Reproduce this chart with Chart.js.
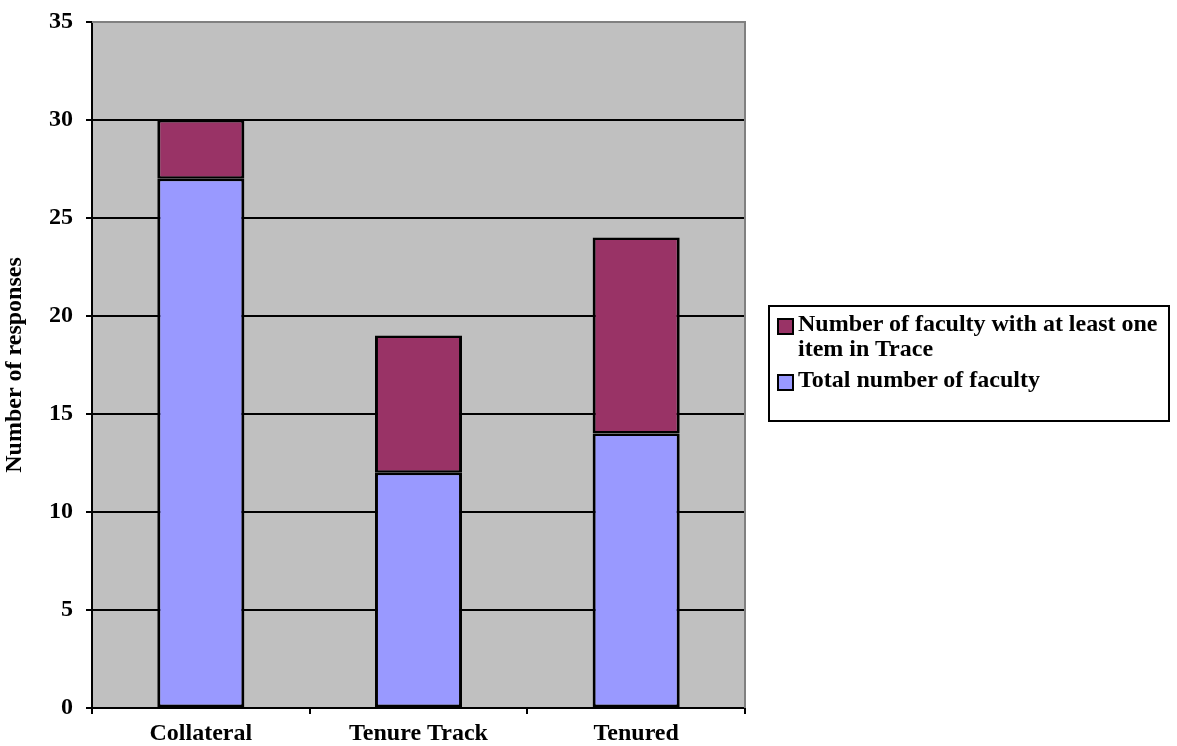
<!DOCTYPE html>
<html>
<head>
<meta charset="utf-8">
<script src="https://cdn.jsdelivr.net/npm/chart.js@4"></script>
<style>
  html, body { margin: 0; padding: 0; background: #fff; }
  #wrap { position: relative; width: 1177px; height: 746px; }
  #legend {
    position: absolute; left: 768px; top: 305px; width: 402px; height: 117px;
    box-sizing: border-box; border: 2px solid #000; background: #fff;
    font-family: "Liberation Serif", "Times New Roman", serif; font-weight: bold; font-size: 24px;
  }
  .item { position: absolute; left: 7px; line-height: 25px; }
  .item .sw { position: absolute; left: 0; width: 17px; height: 17px; box-sizing: border-box; border: 2px solid #000; }
  .item .txt { position: absolute; left: 21px; width: 375px; }
</style>
</head>
<body>
<div id="wrap">
  <canvas id="chart" width="1177" height="746"></canvas>
  <div id="legend"></div>
</div>
<script>
// Kategorier och värden
const categories = ['Collateral', 'Tenure Track', 'Tenured'];
const totalFaculty = [27, 12, 14];
const facultyWithItem = [3, 7, 10];
const yTicks = [0, 5, 10, 15, 20, 25, 30, 35];

const seriesLabels = ['Total number of faculty', 'Number of faculty with at least one item in Trace'];
const seriesColors = ['#9999FF', '#993366'];

const fontFamily = '"Liberation Serif", "Times New Roman", serif';

// Grå bakgrund i ritytan och ram upptill/höger
const plotBackground = {
    id: 'plotBackground',
    beforeDraw(chart) {
        const { ctx, chartArea: a } = chart;
        ctx.save();
        ctx.fillStyle = '#C0C0C0';
        ctx.fillRect(a.left, a.top, a.right - a.left, a.bottom - a.top);
        ctx.restore();
    },
    afterDatasetsDraw(chart) {
        const { ctx, chartArea: a } = chart;
        ctx.save();
        ctx.strokeStyle = '#808080';
        ctx.lineWidth = 2;
        ctx.beginPath();
        ctx.moveTo(a.left, a.top);
        ctx.lineTo(a.right, a.top);
        ctx.lineTo(a.right, a.bottom);
        ctx.stroke();
        ctx.restore();
    }
};

const barBorder = { top: 2.5, bottom: 2.5, left: 3, right: 3 };

new Chart(document.getElementById('chart'), {
    type: 'bar',
    data: {
        labels: categories,
        datasets: [
            {
                label: seriesLabels[0],
                data: totalFaculty,
                backgroundColor: seriesColors[0],
                borderColor: '#000',
                borderWidth: barBorder,
                borderSkipped: false
            },
            {
                label: seriesLabels[1],
                data: facultyWithItem,
                backgroundColor: seriesColors[1],
                borderColor: '#000',
                borderWidth: barBorder,
                borderSkipped: false
            }
        ]
    },
    options: {
        responsive: false,
        animation: false,
        layout: { padding: { top: 22, right: 432, left: 0, bottom: 0 } },
        datasets: { bar: { categoryPercentage: 1, barPercentage: 0.4 } },
        plugins: {
            legend: { display: false },
            tooltip: { enabled: false }
        },
        scales: {
            x: {
                stacked: true,
                afterFit(scale) {
                    scale.height = 38;
                    scale.paddingLeft = 0;
                    scale.paddingRight = 0;
                },
                grid: { drawOnChartArea: false, color: '#000', tickLength: 6, lineWidth: 2, offset: true },
                border: { color: '#000', width: 2 },
                ticks: { color: '#000', padding: 5, font: { family: fontFamily, weight: 'bold', size: 24 } }
            },
            y: {
                stacked: true,
                min: 0,
                max: 35,
                afterFit(scale) {
                    scale.width = 92;
                    scale.paddingTop = 0;
                    scale.paddingBottom = 0;
                },
                afterBuildTicks(scale) { scale.ticks = yTicks.map(v => ({ value: v })); },
                grid: {
                    color: ctx => (ctx.tick && ctx.tick.value === 35) ? '#808080' : '#000',
                    tickColor: '#000',
                    lineWidth: 2,
                    tickLength: 6
                },
                border: { color: '#000', width: 2 },
                ticks: { color: '#000', padding: 13, font: { family: fontFamily, weight: 'bold', size: 24 } },
                title: {
                    display: true,
                    text: 'Number of responses',
                    color: '#000',
                    padding: { top: 0, bottom: 0 },
                    font: { family: fontFamily, weight: 'bold', size: 24 }
                }
            }
        }
    },
    plugins: [plotBackground]
});

// Förklaring i omvänd ordning, som i originalet
const legend = document.getElementById('legend');
const legendRows = [
    { label: seriesLabels[1], color: seriesColors[1], top: 4, swatch: 7 },
    { label: seriesLabels[0], color: seriesColors[0], top: 60, swatch: 7 }
];
legendRows.forEach(r => {
    const item = document.createElement('div');
    item.className = 'item';
    item.style.top = r.top + 'px';
    item.innerHTML = `<span class="sw" style="top:${r.swatch}px;background:${r.color}"></span><span class="txt">${r.label}</span>`;
    legend.appendChild(item);
});
</script>
</body>
</html>
